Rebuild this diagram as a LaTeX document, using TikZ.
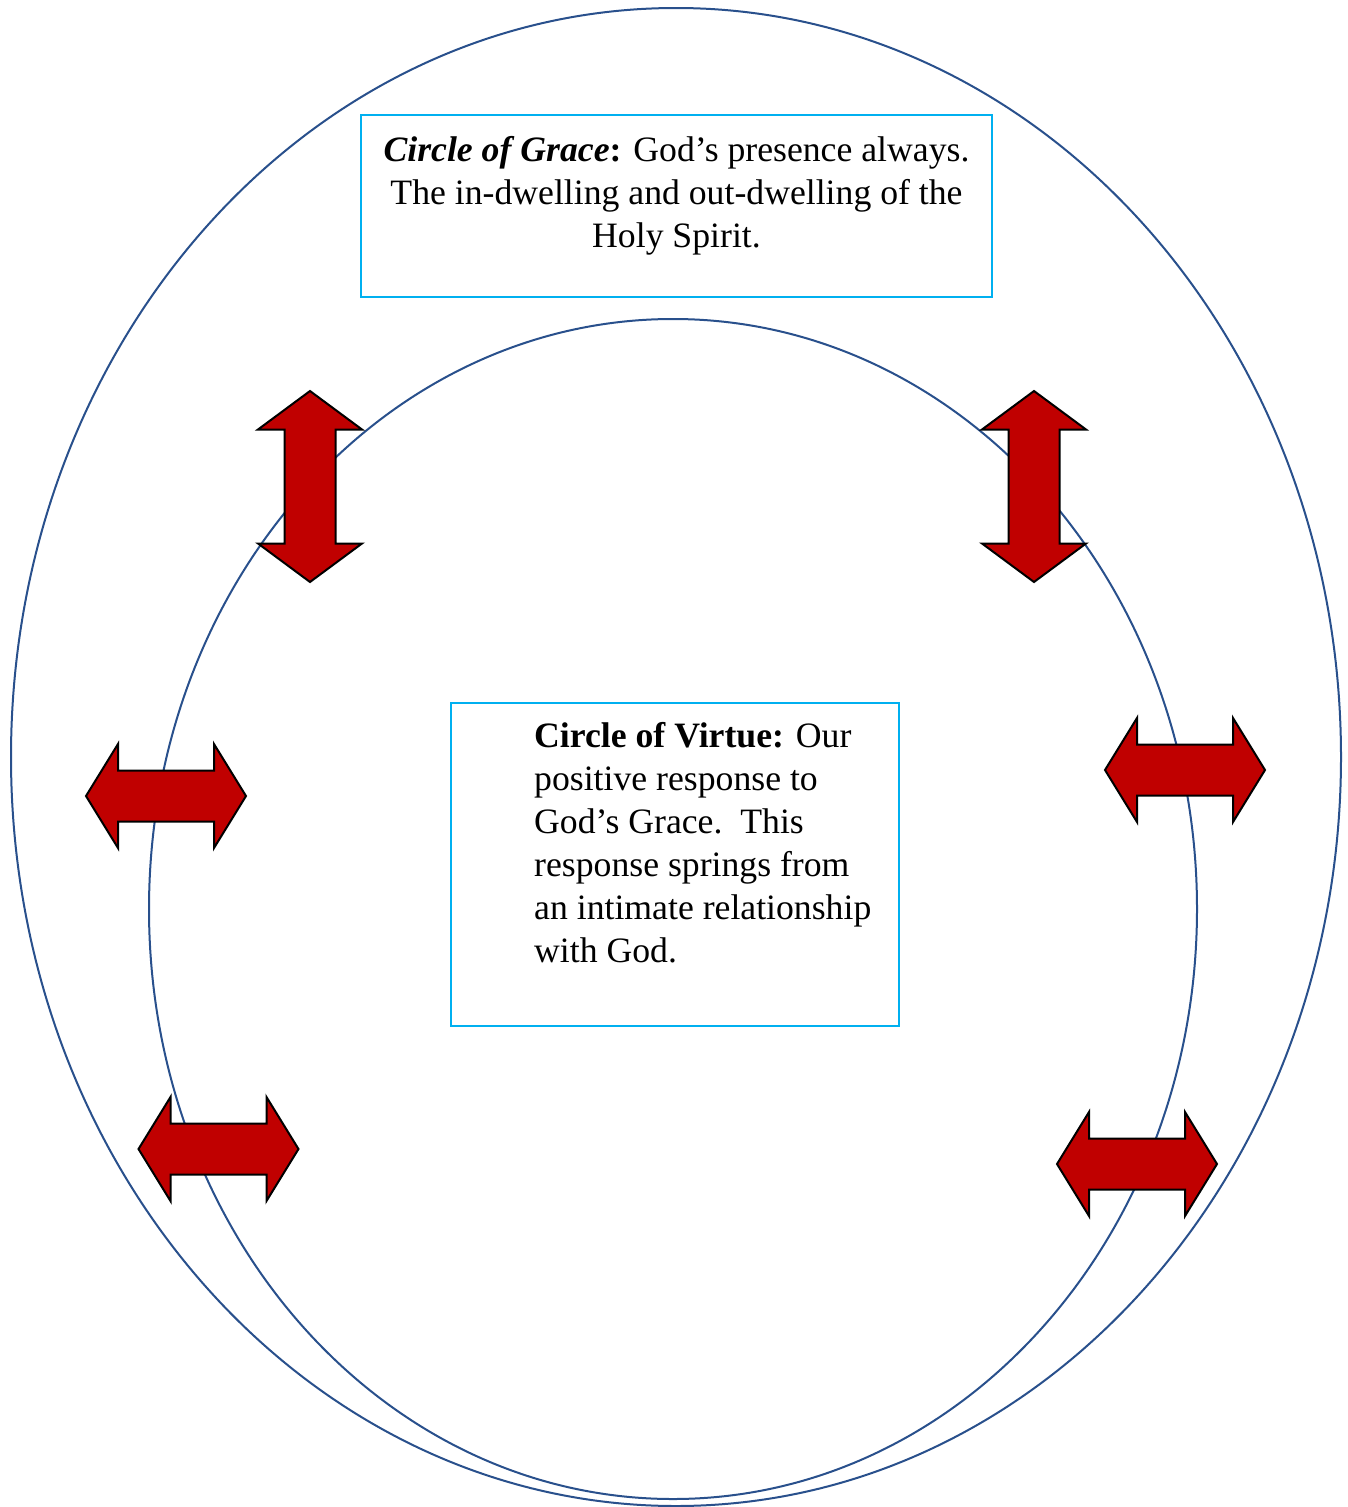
\documentclass[tikz,border=0pt]{standalone}
\usepackage{fontspec}
\setmainfont{Liberation Serif}
\definecolor{ringblue}{RGB}{41,80,140}
\definecolor{boxcyan}{RGB}{0,176,240}
\definecolor{arrowred}{RGB}{192,0,0}
\tikzset{
  ring/.style={draw=ringblue,line width=2pt},
  textbox/.style={draw=boxcyan,line width=2pt,fill=white,inner sep=0pt},
  dblarrow/.style={draw=black,line width=2pt,fill=arrowred,line join=miter},
  lbl/.style={font=\fontsize{35.7}{43}\selectfont,inner sep=0pt},
  harrow/.pic={\draw[dblarrow] (-80,0) -- (-48,-52) -- (-48,-25.5) -- (48,-25.5) -- (48,-52) -- (80,0) -- (48,52) -- (48,25.5) -- (-48,25.5) -- (-48,52) -- cycle;},
  varrow/.pic={\draw[dblarrow] (0,-95.5) -- (52,-57) -- (25.5,-57) -- (25.5,57) -- (52,57) -- (0,95.5) -- (-52,57) -- (-25.5,57) -- (-25.5,-57) -- (-52,-57) -- cycle;}
}
\begin{document}
\begin{tikzpicture}[x=1pt,y=-1pt]
\useasboundingbox (0,0) rectangle (1348,1507);
% circles
\draw[ring] (676,757) ellipse [x radius=665pt, y radius=749pt];
\draw[ring] (673,909) ellipse [x radius=524pt, y radius=590pt];
% boxes
\node[textbox,minimum width=631pt,minimum height=182pt] (gracebox) at (676.5,206) {};
\node[textbox,minimum width=448pt,minimum height=323pt] (virtuebox) at (675,864.5) {};
% texts (base anchor = baseline of the last line)
\node[lbl,align=center,anchor=base] (gracetext) at (676.5,247)
  {\textbf{\textit{Circle of Grace}:} God’s presence always.\\
   The in-dwelling and out-dwelling of the\\
   Holy Spirit.};
\node[lbl,align=left,anchor=base west] (virtuetext) at (534,962)
  {\textbf{Circle of Virtue:} Our\\
   positive response to\\
   God’s Grace.\ \ This\\
   response springs from\\
   an intimate relationship\\
   with God.};
% arrows
\pic at (310,486.5) {varrow};
\pic at (1034,486.5) {varrow};
\pic at (166,796) {harrow};
\pic at (1185,770) {harrow};
\pic at (218.5,1149) {harrow};
\pic at (1137,1164) {harrow};
\end{tikzpicture}
\end{document}
